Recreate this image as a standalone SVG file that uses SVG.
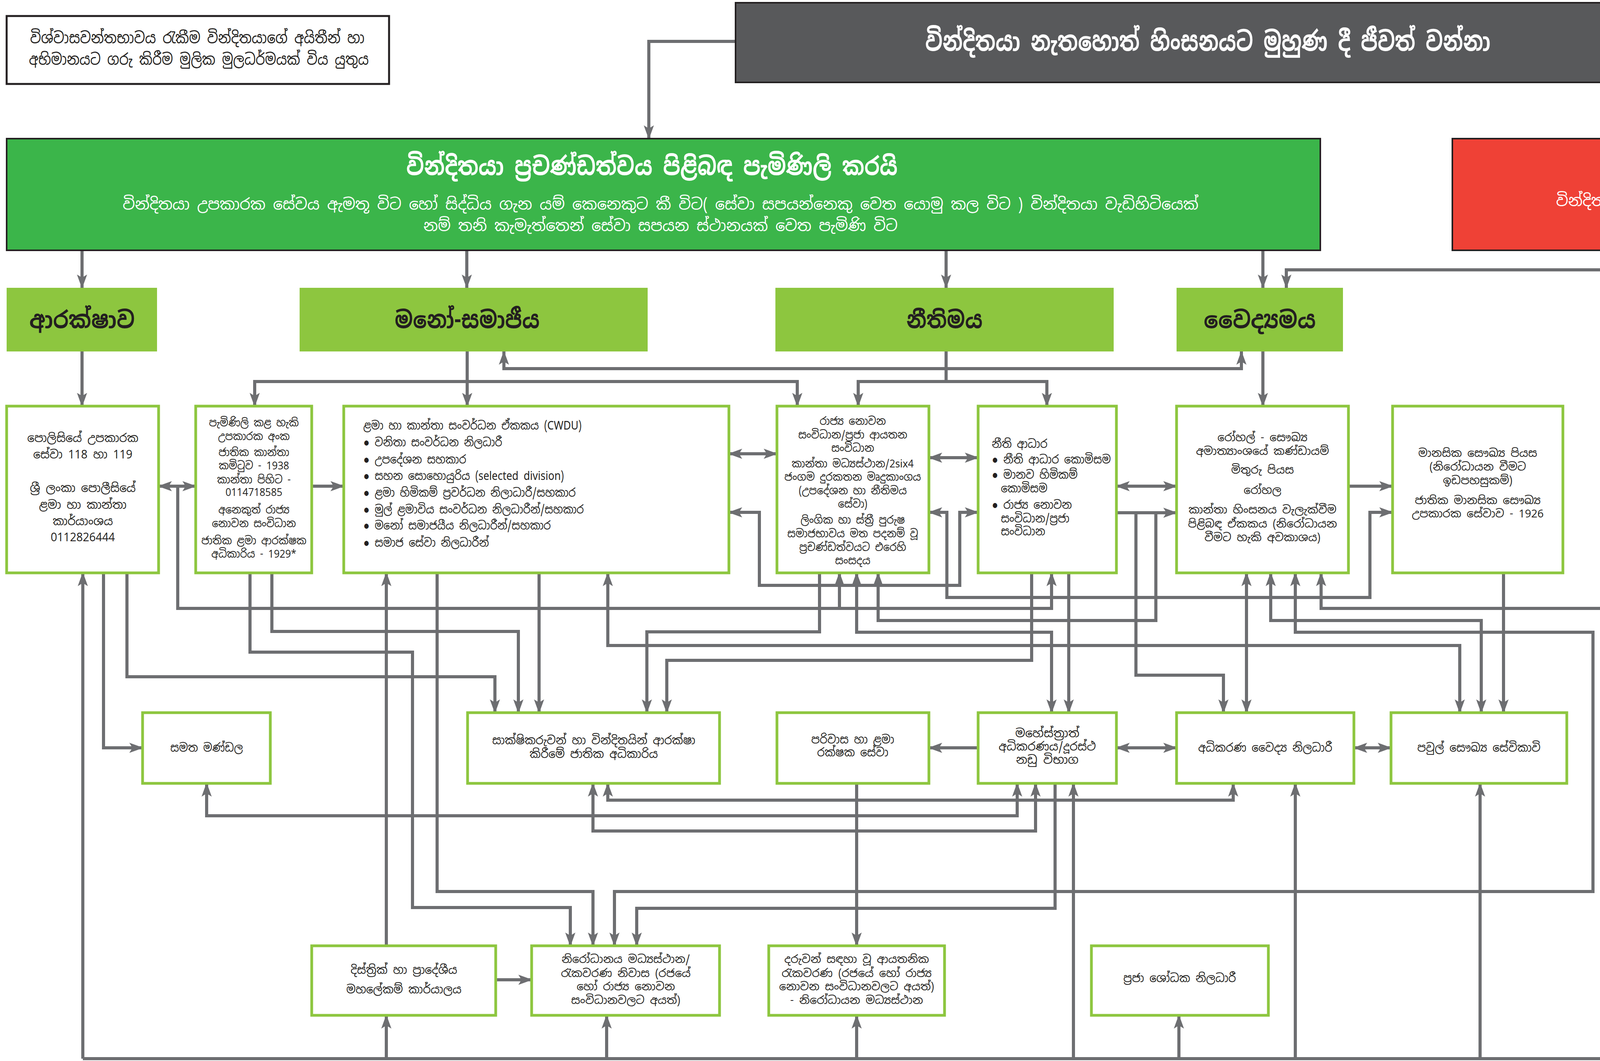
<svg xmlns="http://www.w3.org/2000/svg" width="5349" height="2717" viewBox="0 0 5349 2717">
<style>
text { font-family: "Noto Sans Sinhala", "Noto Serif Sinhala", "Noto Sans", "Liberation Sans", "DejaVu Sans", sans-serif; fill:#231f20; }
.m { text-anchor: middle; }
.w { fill:#ffffff; }
.b { font-weight:bold; }
.f28 { font-size:28px; }
.f30 { font-size:30px; }
.f40 { font-size:40px; }
.cat { fill:#8dc63f; }
.catt { font-size:60px; font-weight:bold; text-anchor:middle; }
.box { fill:#ffffff; stroke:#8dc63f; stroke-width:7; }
.conn path { fill:none; stroke:#6d6e71; stroke-width:8; }
.e { marker-end:url(#ah); }
.s { marker-start:url(#ah); }
.bo { marker-start:url(#ah); marker-end:url(#ah); }
</style>
<defs>
<marker id="ah" markerUnits="userSpaceOnUse" markerWidth="36" markerHeight="26" refX="34" refY="13" orient="auto-start-reverse" viewBox="0 0 36 26">
<path d="M0,0 L36,13 L0,26 L8,13 z" fill="#6d6e71"/>
</marker>
</defs>
<rect x="0" y="0" width="5349" height="2717" fill="#ffffff"/>

<g id="connectors" class="conn">
<path class="e" d="M1883,106 H1661 V355"/>
<path class="e" d="M4308,106 H4595 V355"/>
<path class="e" d="M210,641 V737"/>
<path class="e" d="M1195,641 V737"/>
<path class="e" d="M2422,641 V737"/>
<path class="e" d="M3233,641 V737"/>
<path class="e" d="M4597,737 V641"/>
<path class="bo" d="M3293,737 V691 H4693 V641"/>
<path class="e" d="M210,900 V1040"/>
<path class="e" d="M1196,900 V1040"/>
<path class="bo" d="M652,1040 V977 H2041 V1040"/>
<path class="bo" d="M1290,900 V944 H3178 V900"/>
<path d="M2422,900 V977"/>
<path class="bo" d="M2197,1040 V977 H2680 V1040"/>
<path class="e" d="M3233,900 V1040"/>
<path class="bo" d="M406,1245 H501"/>
<path class="e" d="M455,1245 V1558 H2692 V1467"/>
<path class="e" d="M2149,1558 V1467"/>
<path class="e" d="M798,1245 H880"/>
<path class="bo" d="M1866,1162 H1989"/>
<path class="bo" d="M2378,1172 H2504"/>
<path class="bo" d="M2858,1245 H3012"/>
<path class="e" d="M3452,1245 H3565"/>
<path class="bo" d="M1866,1312 H1944 V1499 H2457 V1312 H2504"/>
<path class="bo" d="M2378,1312 H2424 V1530 H3507 V1312 H3565"/>
<path class="e" d="M2858,1313 H3012"/>
<path class="e" d="M2908,1313 V1729 H3132 V1825"/>
<path class="e" d="M2959,1313 V1589 H2248 V1467"/>
<path class="e" d="M212,2711 V1467"/>
<path class="e" d="M265,1467 V1915 H365"/>
<path class="e" d="M325,1467 V1733 H1267 V1825"/>
<path class="e" d="M640,1467 V1670 H1056 V2324 H1460 V2422"/>
<path class="e" d="M696,1467 V1617 H1327 V1825"/>
<path class="e" d="M989,2422 V1467"/>
<path class="e" d="M1119,1467 V2283 H1518 V2422"/>
<path class="e" d="M1380,1467 V1825"/>
<path class="bo" d="M1556,1467 V1653 H3737 V1825"/>
<path class="e" d="M2098,1467 V1618 H1656 V1825"/>
<path class="bo" d="M2193,1467 V1619 H2692 V1825"/>
<path class="e" d="M2641,1467 V1691 H1707 V1825"/>
<path class="e" d="M2736,1467 V1825"/>
<path class="bo" d="M3191,1467 V1825"/>
<path class="bo" d="M3253,1467 V1589 H3792 V1825"/>
<path class="bo" d="M3316,1467 V1619 H4078 V2283 H1573 V2422"/>
<path class="s" d="M3382,1467 V1558 H4166 V2711"/>
<path class="e" d="M3849,1467 V1825"/>
<path class="e" d="M2504,1915 H2378"/>
<path class="bo" d="M2858,1915 H3012"/>
<path class="bo" d="M3466,1915 H3561"/>
<path class="e" d="M2193,2006 V2422"/>
<path class="bo" d="M2604,2006 V2089 H529 V2006"/>
<path class="bo" d="M2651,2006 V2128 H1518 V2006"/>
<path class="e" d="M2701,2006 V2326 H1630 V2422"/>
<path class="bo" d="M3157,2006 V2049 H1556 V2006"/>
<path d="M212,2711 H4166"/>
<path class="e" d="M989,2711 V2600"/>
<path class="e" d="M1553,2711 V2600"/>
<path class="e" d="M2193,2711 V2600"/>
<path class="e" d="M2748,2711 V2006"/>
<path class="e" d="M3018,2711 V2600"/>
<path class="e" d="M3316,2711 V2006"/>
<path class="e" d="M3789,2711 V2006"/>
<path class="e" d="M1269,2509 H1361"/>
</g>

<g id="principle">
<rect x="17" y="41" width="979" height="174" fill="#ffffff" stroke="#231f20" stroke-width="5"/>
<text class="m f40" x="505" y="111" textLength="856" lengthAdjust="spacingAndGlyphs">විශ්වාසවන්තභාවය රැකීම වින්දිතයාගේ අයිතීන් හා</text>
<text class="m f40" x="509" y="166" textLength="870" lengthAdjust="spacingAndGlyphs">අභිමානයට ගරු කිරීම මුලික මුලධර්මයක් විය යුතුය</text>
</g>

<g id="victim">
<rect x="1883" y="7" width="2425" height="204" fill="#58595b" stroke="#231f20" stroke-width="4"/>
<text class="m w b" x="3092" y="130" font-size="68" textLength="1447" lengthAdjust="spacingAndGlyphs">වින්දිතයා නැතහොත් හිංසනයට මුහුණ දී ජීවත් වන්නා</text>
</g>

<g id="reports">
<rect x="17" y="355" width="3363" height="286" fill="#3bb54a" stroke="#231f20" stroke-width="4"/>
<text class="m w b" x="1669" y="448" font-size="64" textLength="1258" lengthAdjust="spacingAndGlyphs">වින්දිතයා ප්‍රචණ්ඩත්වය පිළිබඳ පැමිණිලි කරයි</text>
<text class="m w f40" x="1691" y="537" textLength="2754" lengthAdjust="spacingAndGlyphs">වින්දිතයා උපකාරක සේවය ඇමතූ විට හෝ සිද්ධිය ගැන යම් කෙනෙකුට කී විට( සේවා සපයන්නෙකු වෙත යොමු කල විට ) වින්දිතයා වැඩිහිටියෙක්</text>
<text class="m w f40" x="1691" y="592" textLength="1214" lengthAdjust="spacingAndGlyphs">නම් තනි කැමැත්තෙන් සේවා සපයන ස්ථානයක් වෙත පැමිණි විට</text>
</g>

<g id="notreport">
<rect x="3718" y="355" width="1624" height="286" fill="#ef4136" stroke="#231f20" stroke-width="4"/>
<text class="m w b" x="4551" y="448" font-size="64" textLength="882" lengthAdjust="spacingAndGlyphs">වින්දිතයා පැමිණිලි නොකර සිටියි</text>
<text class="m w f40" x="4548" y="528" textLength="1129" lengthAdjust="spacingAndGlyphs">වින්දිතයා සිද්ධිය ගැන කිසි කෙනෙකුට නොකී විට හා හිංසන</text>
<text class="m w f40" x="4550" y="585" textLength="381" lengthAdjust="spacingAndGlyphs">සමඟ ජීවත් වන විට</text>
</g>

<g id="medical-noreport">
<rect x="4165" y="737" width="859" height="163" fill="#ffffff" stroke="#ef4136" stroke-width="8"/>
<text class="m b" x="4599" y="808" font-size="44" style="fill:#ed1c24" textLength="612" lengthAdjust="spacingAndGlyphs">වෛද්‍යමය ප්‍රතිකාර ලබාගන්නා නමුදු</text>
<text class="m b" x="4599" y="862" font-size="44" style="fill:#ed1c24" textLength="576" lengthAdjust="spacingAndGlyphs">සිදුවීම පිළිබඳ පැමිණිලි නොකරයි</text>
</g>

<g id="cat-protection">
<rect class="cat" x="17" y="737" width="385" height="163"/>
<text class="catt" x="210" y="840" textLength="270" lengthAdjust="spacingAndGlyphs">ආරක්ෂාව</text>
</g>
<g id="cat-psychosocial">
<rect class="cat" x="767" y="737" width="891" height="163"/>
<text class="catt" x="1196" y="840" textLength="371" lengthAdjust="spacingAndGlyphs">මනෝ-සමාජීය</text>
</g>
<g id="cat-legal">
<rect class="cat" x="1985" y="737" width="866" height="163"/>
<text class="catt" x="2418" y="840" textLength="195" lengthAdjust="spacingAndGlyphs">නීතිමය</text>
</g>
<g id="cat-medical">
<rect class="cat" x="3012" y="737" width="426" height="163"/>
<text class="catt" x="3225" y="840" textLength="287" lengthAdjust="spacingAndGlyphs">වෛද්‍යමය</text>
</g>

<g id="police">
<rect class="box" x="17" y="1040" width="389" height="427"/>
<g transform="matrix(0.96,0,0,1,8.5,0)">
<text class="m f30" x="212" y="1132">පොලිසියේ උපකාරක</text>
<text class="m f30" x="212" y="1174">සේවා 118 හා 119</text>
<text class="m f30" x="212" y="1260">ශ්‍රී ලංකා පොලීසියේ</text>
<text class="m f30" x="212" y="1303">ළමා හා කාන්තා</text>
<text class="m f30" x="212" y="1345">කාර්යාංශය</text>
<text class="m f30" x="212" y="1386">0112826444</text>
</g>
</g>

<g id="helplines">
<rect class="box" x="501" y="1040" width="297" height="427"/>
<g transform="matrix(0.91,0,0,1,58.5,0)">
<text class="m f28" x="650" y="1092">පැමිණිලි කළ හැකි</text>
<text class="m f28" x="650" y="1127">උපකාරක අංක</text>
<text class="m f28" x="650" y="1168">ජාතික කාන්තා</text>
<text class="m f28" x="650" y="1202">කමිටුව - 1938</text>
<text class="m f28" x="650" y="1238">කාන්තා පිහිට -</text>
<text class="m f28" x="650" y="1270">0114718585</text>
<text class="m f28" x="650" y="1315">අනෙකුත් රාජ්‍ය</text>
<text class="m f28" x="650" y="1350">නොවන සංවිධාන</text>
<text class="m f28" x="650" y="1394">ජාතික ළමා ආරක්ෂක</text>
<text class="m f28" x="650" y="1428">අධිකාරිය - 1929*</text>
</g>
</g>

<g id="cwdu">
<rect class="box" x="880" y="1040" width="986" height="427"/>
<g transform="matrix(0.88,0,0,1,111.6,0)">
<text class="f30" x="930" y="1100">ළමා හා කාන්තා සංවර්ධන ඒකකය (CWDU)</text>
<text class="f30" x="930" y="1143">● වනිතා සංවර්ධන නිලධාරී</text>
<text class="f30" x="930" y="1187">● උපදේශන සහකාර</text>
<text class="f30" x="930" y="1229">● සහන සොහොයුරිය (selected division)</text>
<text class="f30" x="930" y="1272">● ළමා හිමිකම් ප්‍රවර්ධන නිලාධාරී/සහකාර</text>
<text class="f30" x="930" y="1315">● මුල් ළමාවිය සංවර්ධන නිලධාරීන්/සහකාර</text>
<text class="f30" x="930" y="1356">● මනෝ සමාජයීය නිලධාරීන්/සහකාර</text>
<text class="f30" x="930" y="1400">● සමාජ සේවා නිලධාරීන්</text>
</g>
</g>

<g id="ngo">
<rect class="box" x="1989" y="1040" width="389" height="427"/>
<g transform="matrix(0.92,0,0,1,174.6,0)">
<text class="m f28" x="2183" y="1088">රාජ්‍ය නොවන</text>
<text class="m f28" x="2183" y="1123">සංවිධාන/ප්‍රජා ආයතන</text>
<text class="m f28" x="2183" y="1157">සංවිධාන</text>
<text class="m f28" x="2183" y="1197">කාන්තා මධ්‍යස්ථාන/2six4</text>
<text class="m f28" x="2183" y="1231">ජංගම දුරකතන මෘදුකාංගය</text>
<text class="m f28" x="2183" y="1266">(උපදේශන හා නීතිමය</text>
<text class="m f28" x="2183" y="1300">සේවා)</text>
<text class="m f28" x="2183" y="1341">ලිංගික හා ස්ත්‍රී පුරුෂ</text>
<text class="m f28" x="2183" y="1376">සමාජභාවය මත පදනම් වූ</text>
<text class="m f28" x="2183" y="1411">ප්‍රචණ්ඩත්වයට එරෙහි</text>
<text class="m f28" x="2183" y="1445">සංසදය</text>
</g>
</g>

<g id="legal-aid">
<rect class="box" x="2504" y="1040" width="354" height="427"/>
<g transform="matrix(0.89,0,0,1,279.3,0)">
<text class="f30" x="2539" y="1147">නීති ආධාර</text>
<text class="f30" x="2539" y="1187">● නීති ආධාර කොමිසම</text>
<text class="f30" x="2539" y="1226">● මානව හිමිකම්</text>
<text class="f30" x="2565" y="1261">කොමිසම</text>
<text class="f30" x="2539" y="1303">● රාජ්‍ය නොවන</text>
<text class="f30" x="2565" y="1338">සංවිධාන/ප්‍රජා</text>
<text class="f30" x="2565" y="1371">සංවිධාන</text>
</g>
</g>

<g id="hospital">
<rect class="box" x="3012" y="1040" width="440" height="427"/>
<text class="m f28" x="3232" y="1130">රෝහල් - සෞඛ්‍ය</text>
<text class="m f28" x="3232" y="1165">අමාත්‍යාංශයේ කණ්ඩායම්</text>
<text class="m f28" x="3232" y="1213">මිතුරු පියස</text>
<text class="m f28" x="3232" y="1265">රෝහල</text>
<text class="m f28" x="3232" y="1315">කාන්තා හිංසනය වැලැක්වීම</text>
<text class="m f28" x="3232" y="1351">පිළිබඳ ඒකකය (නිරෝධායන</text>
<text class="m f28" x="3232" y="1386">වීමට හැකි අවකාශය)</text>
</g>

<g id="mental-health">
<rect class="box" x="3565" y="1040" width="436" height="427"/>
<text class="m f28" x="3783" y="1170">මානසික සෞඛ්‍ය පියස</text>
<text class="m f28" x="3783" y="1205">(නිරෝධායන වීමට</text>
<text class="m f28" x="3783" y="1240">ඉඩපහසුකම්)</text>
<text class="m f28" x="3783" y="1291">ජාතික මානසික සෞඛ්‍ය</text>
<text class="m f28" x="3783" y="1325">උපකාරක සේවාව - 1926</text>
</g>

<g id="mediation">
<rect class="box" x="365" y="1825" width="327" height="181"/>
<text class="m f30" x="529" y="1925" transform="matrix(0.9,0,0,1,52.9,0)">සමත මණ්ඩල</text>
</g>

<g id="witness">
<rect class="box" x="1197" y="1825" width="645" height="181"/>
<g transform="matrix(0.94,0,0,1,91.2,0)">
<text class="m f30" x="1520" y="1906">සාක්ෂිකරුවන් හා වින්දිතයින් ආරක්ෂා</text>
<text class="m f30" x="1520" y="1941">කිරීමේ ජාතික අධිකාරිය</text>
</g>
</g>

<g id="probation">
<rect class="box" x="1989" y="1825" width="389" height="181"/>
<g transform="matrix(0.92,0,0,1,174.6,0)">
<text class="m f30" x="2183" y="1904">පරිවාස හා ළමා</text>
<text class="m f30" x="2183" y="1937">රක්ෂක සේවා</text>
</g>
</g>

<g id="magistrate">
<rect class="box" x="2504" y="1825" width="354" height="181"/>
<text class="m f30" x="2681" y="1888">මහේස්ත්‍රාත්</text>
<text class="m f30" x="2681" y="1922" textLength="249" lengthAdjust="spacingAndGlyphs">අධිකරණය/දූරස්ථ</text>
<text class="m f30" x="2681" y="1956">නඩු විභාග</text>
</g>

<g id="jmo">
<rect class="box" x="3012" y="1825" width="454" height="181"/>
<text class="m f30" x="3239" y="1925" transform="matrix(0.92,0,0,1,259.1,0)">අධිකරණ වෛද්‍ය නිලධාරී</text>
</g>

<g id="phm">
<rect class="box" x="3561" y="1825" width="450" height="181"/>
<text class="m f30" x="3786" y="1925" transform="matrix(0.93,0,0,1,265,0)">පවුල් සෞඛ්‍ය සේවිකාවි</text>
</g>

<g id="district">
<rect class="box" x="798" y="2422" width="471" height="178"/>
<g transform="matrix(0.94,0,0,1,62,0)">
<text class="m f30" x="1034" y="2494">දිස්ත්‍රික් හා ප්‍රාදේශීය</text>
<text class="m f30" x="1034" y="2544">මහලේකම් කාර්යාලය</text>
</g>
</g>

<g id="shelter">
<rect class="box" x="1361" y="2422" width="481" height="178"/>
<text class="m f28" x="1602" y="2466">නිරෝධානය මධ්‍යස්ථාන/</text>
<text class="m f28" x="1602" y="2502">රැකවරණ නිවාස (රජයේ</text>
<text class="m f28" x="1602" y="2536">හෝ රාජ්‍ය නොවන</text>
<text class="m f28" x="1602" y="2571">සංවිධානවලට අයත්)</text>
</g>

<g id="child-care">
<rect class="box" x="1968" y="2422" width="450" height="178"/>
<text class="m f28" x="2193" y="2466">දරුවන් සඳහා වූ ආයතනික</text>
<text class="m f28" x="2193" y="2502">රැකවරණ (රජයේ හෝ රාජ්‍ය</text>
<text class="m f28" x="2193" y="2536">නොවන සංවිධානවලට අයත්)</text>
<text class="m f28" x="2193" y="2571">- නිරෝධායන මධ්‍යස්ථාන</text>
</g>

<g id="phi">
<rect class="box" x="2794" y="2422" width="453" height="178"/>
<text class="m f30" x="3020" y="2515" transform="matrix(0.93,0,0,1,211.4,0)">ප්‍රජා ශෝධක නිලධාරී</text>
</g>

<g id="bracket">
<path d="M4264,1040 H4383 V2711 H4264 M4383,1803 H4451" fill="none" stroke="#8dc63f" stroke-width="13"/>
</g>

<g id="benefit">
<rect class="cat" x="4564" y="1435" width="447" height="736"/>
<text class="m b" x="4787" y="1725" font-size="56" textLength="181" lengthAdjust="spacingAndGlyphs">ප්‍රතිලාභ</text>
<text class="m b" x="4787" y="1823" font-size="34" textLength="279" lengthAdjust="spacingAndGlyphs">හිංසනයෙන් තොරව</text>
<text class="m b" x="4787" y="1874" font-size="34" textLength="180" lengthAdjust="spacingAndGlyphs">ජීවත්වන්නන්</text>
</g>

<g id="footnote">
<text class="b" x="5098" y="2738" font-size="40">*දරුවන් සඳහා</text>
</g>
</svg>
